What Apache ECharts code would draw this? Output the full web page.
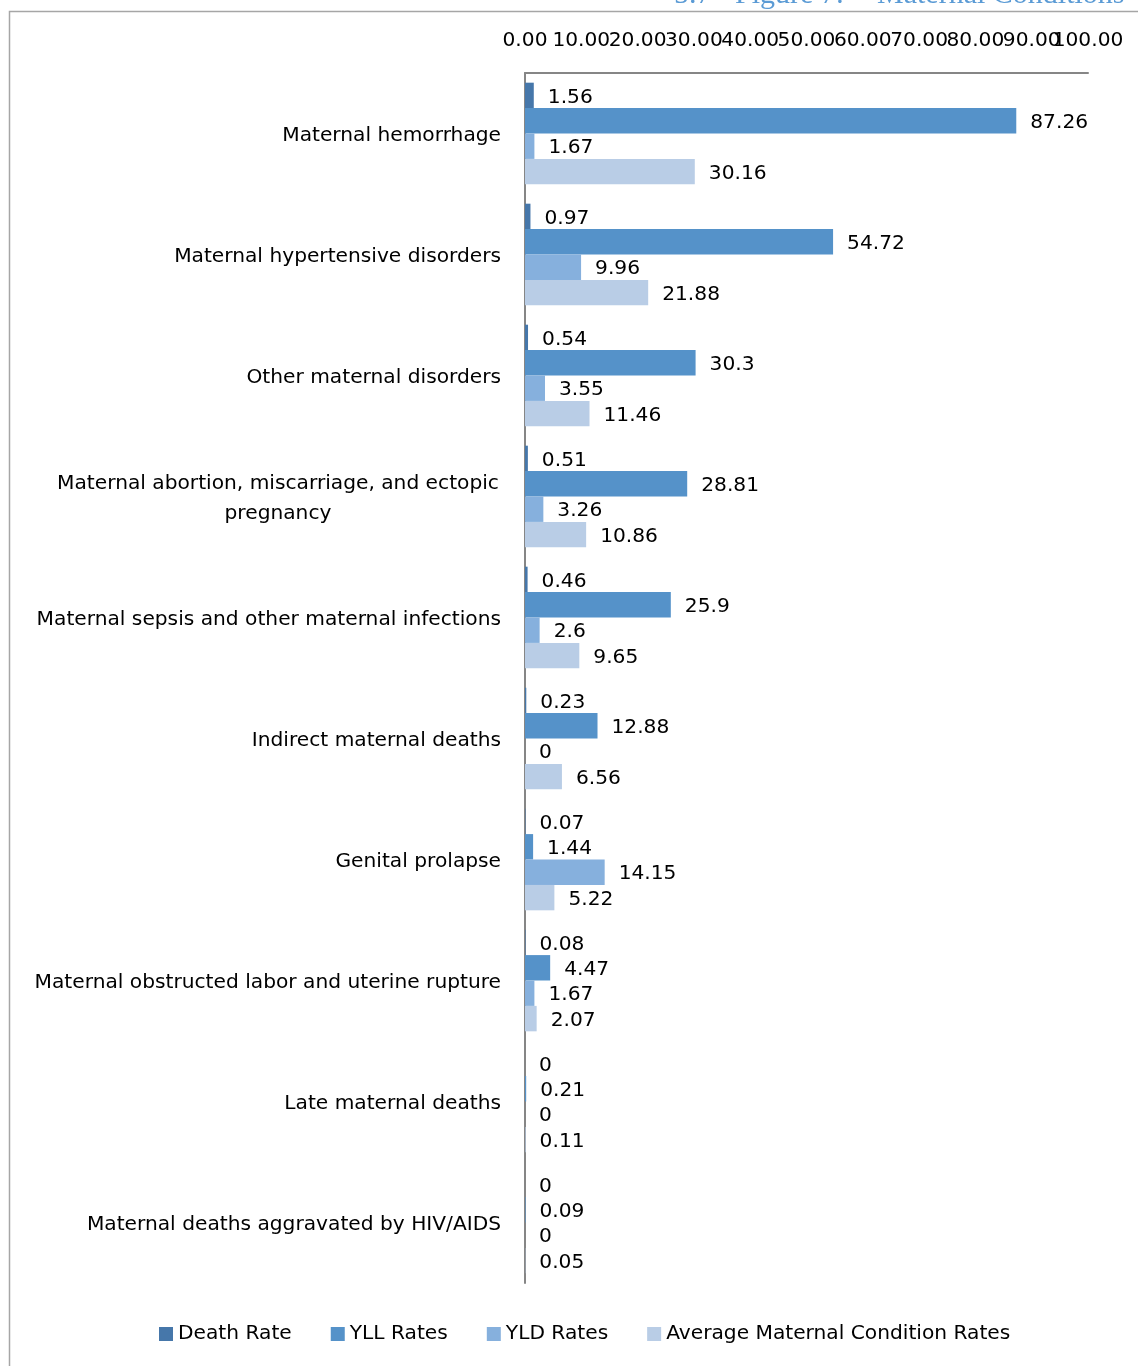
<!DOCTYPE html>
<html>
<head>
<meta charset="utf-8">
<title>Maternal Conditions</title>
<script src="https://cdn.jsdelivr.net/npm/echarts@6/dist/echarts.min.js"></script>
<style>
  html, body { margin: 0; padding: 0; background: #ffffff; }
  #chart { width: 1138px; height: 1366px; }
</style>
</head>
<body>
<div id="chart"></div>
<script>
const categories = [
  'Maternal hemorrhage',
  'Maternal hypertensive disorders',
  'Other maternal disorders',
  'Maternal abortion, miscarriage, and ectopic pregnancy',
  'Maternal sepsis and other maternal infections',
  'Indirect maternal deaths',
  'Genital prolapse',
  'Maternal obstructed labor and uterine rupture',
  'Late maternal deaths',
  'Maternal deaths aggravated by HIV/AIDS'
];
const deathRate = [1.56, 0.97, 0.54, 0.51, 0.46, 0.23, 0.07, 0.08, 0, 0];
const yllRates  = [87.26, 54.72, 30.3, 28.81, 25.9, 12.88, 1.44, 4.47, 0.21, 0.09];
const yldRates  = [1.67, 9.96, 3.55, 3.26, 2.6, 0, 14.15, 1.67, 0, 0];
const avgRates  = [30.16, 21.88, 11.46, 10.86, 9.65, 6.56, 5.22, 2.07, 0.11, 0.05];
const seriesNames = ['Death Rate', 'YLL Rates', 'YLD Rates', 'Average Maternal Condition Rates'];
const seriesColors = ['#4677AA', '#5592C9', '#86B0DD', '#B9CDE6'];
const axisMin = 0;
const axisMax = 100;
const axisStep = 10;

const FONT = '"DejaVu Sans", "Open Sans", sans-serif';
const FS = 20.2;
const chart = echarts.init(document.getElementById('chart'), null, { renderer: 'canvas' });

const wrapped = 'Maternal abortion, miscarriage, and ectopic pregnancy';

function makeSeries(name, data, color) {
  return {
    name: name,
    type: 'bar',
    data: data,
    barGap: '0%',
    barCategoryGap: '16%',
    itemStyle: { color: color },
    label: {
      show: true,
      position: 'right',
      distance: 14,
      offset: [0, 2],
      color: '#000000',
      fontFamily: FONT,
      fontSize: FS
    }
  };
}

const labelBase = {
  margin: 22,
  color: '#000000',
  fontFamily: FONT,
  fontSize: FS,
  hideOverlap: false
};

const titleFont = '30px "Liberation Serif", serif';

chart.setOption({
  animation: false,
  backgroundColor: '#ffffff',
  graphic: [
    {
      type: 'rect',
      shape: { x: 9.5, y: 11.5, width: 1300, height: 1500 },
      style: { fill: 'none', stroke: '#a6a6a6', lineWidth: 1.5 },
      silent: true
    },
    {
      type: 'text', x: 674, y: 10,
      style: { text: '5.7', font: titleFont, fill: '#5B9BD5', verticalAlign: 'bottom' }
    },
    {
      type: 'text', x: 735, y: 10,
      style: { text: 'Figure 7:', font: titleFont, fill: '#5B9BD5', verticalAlign: 'bottom' }
    },
    {
      type: 'text', x: 877, y: 10,
      style: { text: 'Maternal Conditions', font: titleFont, fill: '#5B9BD5', verticalAlign: 'bottom' }
    }
  ],
  legend: {
    left: 159,
    top: 1324,
    padding: 0,
    itemWidth: 14,
    itemHeight: 14,
    itemGap: 39,
    icon: 'rect',
    data: seriesNames,
    textStyle: { color: '#000000', fontFamily: FONT, fontSize: FS, padding: [0, 0, 0, 0] }
  },
  grid: { left: 525, right: 50, top: 73, bottom: 83, containLabel: false },
  xAxis: [
    {
      // tick values 0.00 – 90.00
      type: 'value',
      position: 'top',
      min: axisMin,
      max: axisMax,
      interval: axisStep,
      axisLine: { show: true, lineStyle: { color: '#868686', width: 2 } },
      axisTick: { show: false },
      splitLine: { show: false },
      axisLabel: Object.assign({}, labelBase, {
        showMinLabel: true,
        showMaxLabel: false,
        formatter: v => v.toFixed(2)
      })
    },
    {
      // end value 100.00, drawn on a twin axis so it is not dropped beside 90.00
      type: 'value',
      position: 'top',
      min: axisMin,
      max: axisMax,
      interval: axisStep,
      axisLine: { show: false },
      axisTick: { show: false },
      splitLine: { show: false },
      axisLabel: Object.assign({}, labelBase, {
        showMinLabel: false,
        showMaxLabel: true,
        formatter: v => (v === axisMax ? v.toFixed(2) : '')
      })
    }
  ],
  yAxis: {
    type: 'category',
    inverse: true,
    data: categories,
    axisLine: { show: true, lineStyle: { color: '#868686', width: 2 } },
    axisTick: { show: false },
    axisLabel: {
      margin: 24,
      color: '#000000',
      fontFamily: FONT,
      fontSize: FS,
      interval: 0,
      padding: [4, 0, 0, 0],
      formatter: v => v === wrapped
        ? '{c|Maternal abortion, miscarriage, and ectopic}\n{c|pregnancy}'
        : v,
      rich: {
        c: { width: 446, align: 'center', color: '#000000', fontFamily: FONT, fontSize: FS, lineHeight: 30 }
      }
    }
  },
  series: [
    makeSeries(seriesNames[0], deathRate, seriesColors[0]),
    makeSeries(seriesNames[1], yllRates, seriesColors[1]),
    makeSeries(seriesNames[2], yldRates, seriesColors[2]),
    makeSeries(seriesNames[3], avgRates, seriesColors[3])
  ]
});
</script>
</body>
</html>
